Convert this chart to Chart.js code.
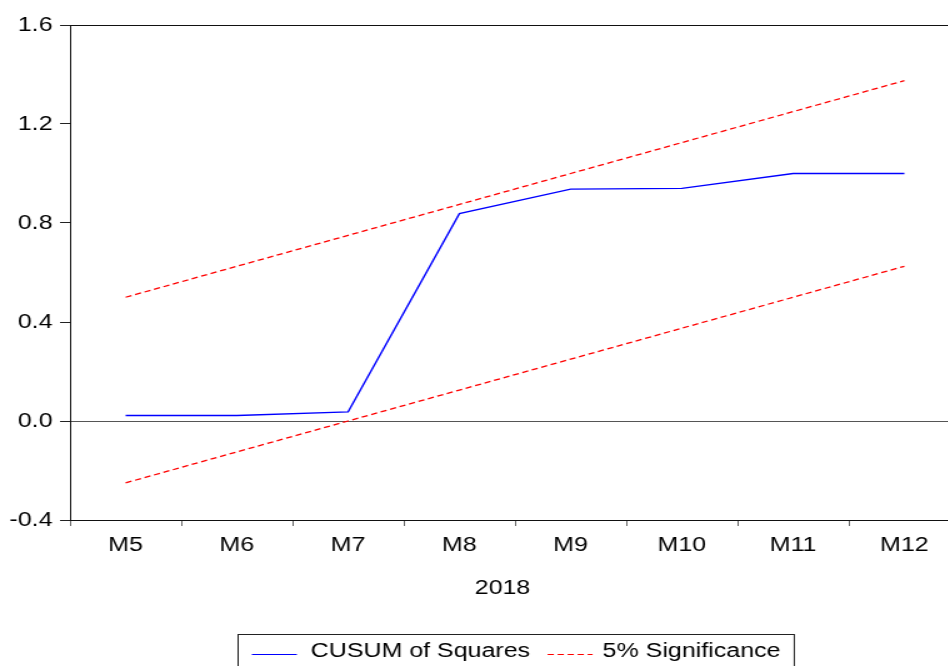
<!DOCTYPE html>
<html>
<head>
<meta charset="utf-8">
<script src="https://cdn.jsdelivr.net/npm/chart.js@4/dist/chart.umd.min.js"></script>
<style>
  html, body { margin: 0; padding: 0; background: #fff; overflow: hidden; }
</style>
</head>
<body>
<!-- the reference is stretched sideways, so the canvas is drawn narrow and widened by css -->
<canvas id="myChart" width="768" height="666" style="width:960px;height:666px;display:block"></canvas>
<script>
// data
var months = ['M5', 'M6', 'M7', 'M8', 'M9', 'M10', 'M11', 'M12'];
var cusumSq = [0.022, 0.022, 0.037, 0.838, 0.937, 0.940, 1.0, 1.0];
var upper5 = [0.5, 0.625, 0.75, 0.875, 1.0, 1.125, 1.25, 1.375];
var lower5 = [-0.25, -0.125, 0.0, 0.125, 0.25, 0.375, 0.5, 0.625];
var yTicks = [-0.4, 0.0, 0.4, 0.8, 1.2, 1.6];
var yearLabel = '2018';
var seriesNames = ['CUSUM of Squares', '5% Significance'];

Chart.defaults.font.family = "'Liberation Sans', Arial, sans-serif";
Chart.defaults.font.size = 20;
Chart.defaults.color = '#000';

// frame round the plot, axis title and the boxed legend under it
var decor = {
    id: 'decor',
    afterDraw: function (chart) {
        var ctx = chart.ctx;
        var a = chart.chartArea;
        ctx.save();
        ctx.strokeStyle = '#111';
        ctx.lineWidth = 1;
        ctx.strokeRect(a.left + 0.5, a.top + 0.5, a.right - a.left, a.bottom - a.top);

        ctx.font = "20px 'Liberation Sans', Arial, sans-serif";
        ctx.fillStyle = '#000';
        ctx.textAlign = 'center';
        ctx.textBaseline = 'middle';
        var mid = (a.left + a.right) / 2;
        ctx.fillText(yearLabel, mid - 10, 588);

        // legend
        var lineLen = 36, gap1 = 11, gap2 = 14, pad = 11;
        var w1 = ctx.measureText(seriesNames[0]).width;
        var w2 = ctx.measureText(seriesNames[1]).width;
        var total = pad + lineLen + gap1 + w1 + gap2 + lineLen + 8 + w2 + pad;
        var x0 = Math.round(mid + 1 - total / 2) - 0.5;
        ctx.strokeStyle = '#222';
        ctx.strokeRect(x0, 634.5, total, 60);
        var x = x0 + pad;
        ctx.textAlign = 'left';
        ctx.strokeStyle = '#0000ff';
        ctx.beginPath(); ctx.moveTo(x, 654.5); ctx.lineTo(x + lineLen, 654.5); ctx.stroke();
        x += lineLen + gap1;
        ctx.fillText(seriesNames[0], x, 651);
        x += w1 + gap2;
        ctx.strokeStyle = '#ff0000';
        ctx.setLineDash([5, 3]);
        ctx.beginPath(); ctx.moveTo(x, 654.5); ctx.lineTo(x + lineLen, 654.5); ctx.stroke();
        ctx.setLineDash([]);
        x += lineLen + 8;
        ctx.fillText(seriesNames[1], x, 651);
        ctx.restore();
    }
};

var ctx = document.getElementById('myChart');
var myChart = new Chart(ctx, {
    type: 'line',
    data: {
        labels: months,
        datasets: [{
            label: seriesNames[0],
            data: cusumSq,
            borderColor: '#0000ff',
            borderWidth: 1.4,
            pointRadius: 0,
            tension: 0,
            fill: false
        }, {
            label: seriesNames[1],
            data: upper5,
            borderColor: '#ff0000',
            borderWidth: 1.3,
            borderDash: [5, 3],
            pointRadius: 0,
            tension: 0,
            fill: false
        }, {
            label: seriesNames[1],
            data: lower5,
            borderColor: '#ff0000',
            borderWidth: 1.3,
            borderDash: [5, 3],
            pointRadius: 0,
            tension: 0,
            fill: false
        }]
    },
    options: {
        responsive: false,
        devicePixelRatio: 1,
        animation: false,
        layout: { padding: { top: 25, right: 0, left: 0, bottom: 0 } },
        plugins: {
            legend: { display: false },
            tooltip: { enabled: false }
        },
        scales: {
            x: {
                offset: true,
                border: { display: false },
                grid: {
                    offset: true,
                    drawOnChartArea: false,
                    tickLength: 6,
                    tickColor: '#666'
                },
                ticks: { padding: 7, maxRotation: 0, autoSkip: false },
                afterFit: function (s) { s.height = 146; }
            },
            y: {
                min: -0.4,
                max: 1.6,
                border: { display: false },
                grid: {
                    color: function (c) { return c.tick && c.tick.value === 0 ? '#555' : 'rgba(0,0,0,0)'; },
                    tickColor: '#222',
                    tickLength: 8
                },
                afterBuildTicks: function (s) {
                    s.ticks = yTicks.map(function (v) { return { value: v }; });
                },
                ticks: {
                    padding: 6,
                    callback: function (v) { return Number(v).toFixed(1); }
                },
                afterFit: function (s) { s.width = 56; }
            }
        }
    },
    plugins: [decor]
});
</script>
</body>
</html>
